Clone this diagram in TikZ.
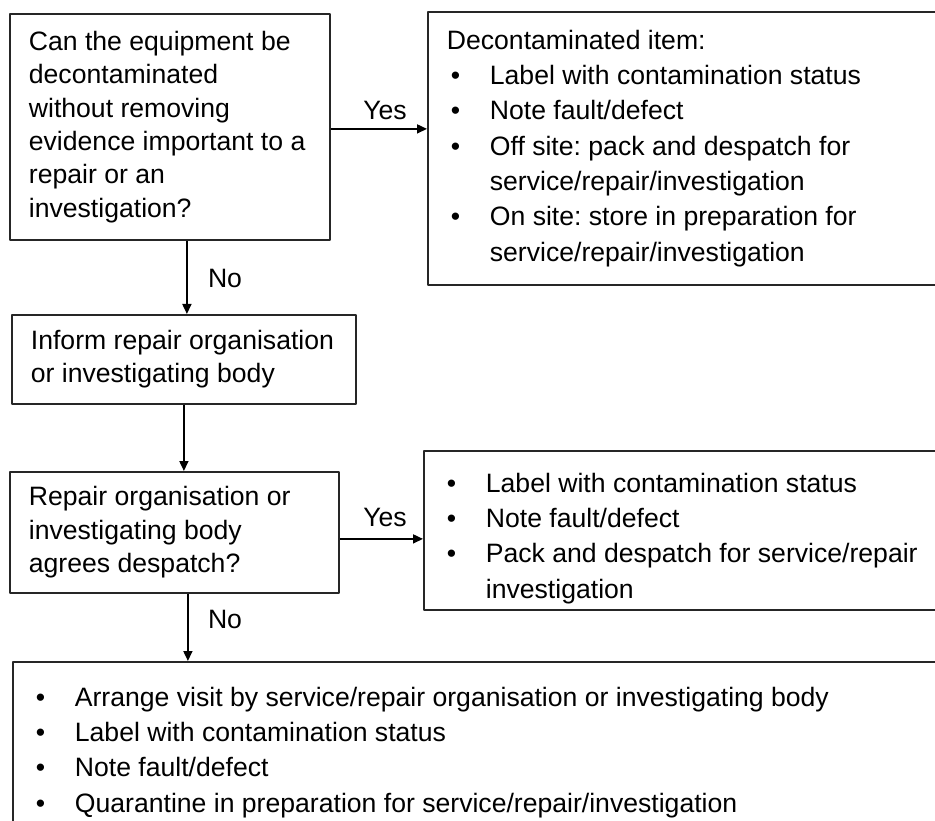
\documentclass[tikz,border=0pt]{standalone}
\usepackage{fontspec}
\setmainfont{Liberation Sans}
\usetikzlibrary{arrows.meta}
\newcommand{\blt}[1]{\par\hangindent=43pt\hangafter=1\noindent\makebox[43pt][l]{\hspace{4pt}\textbullet}#1}
\begin{document}
\frenchspacing\hyphenpenalty=10000
\begin{tikzpicture}[x=1pt,y=-1pt,line join=round,
	box/.style={draw=black!85,line width=1.8pt,anchor=north west,align=flush left,inner xsep=19pt,inner ysep=0pt,font=\fontsize{26.6}{33.4}\selectfont},
	listbox/.style={box,font=\fontsize{26.6}{35.3}\selectfont},
	arr/.style={line width=1.6pt,-{Triangle[length=10pt,width=9pt]}},
	lbl/.style={anchor=base,inner sep=0pt,font=\fontsize{26.6}{32}\selectfont}]
	\useasboundingbox (0,0) rectangle (935,821);
	% left column
	\node[box,text width=282pt,minimum height=226pt] (ask) at (9,13) {Can the equipment be\\decontaminated\\without removing\\evidence important to a\\repair or an\\investigation?};
	\node[box,text width=306pt,minimum height=89pt] (inform) at (11,314) {Inform repair organisation\\or investigating body};
	\node[box,text width=291pt,minimum height=121pt] (agree) at (9,471) {Repair organisation or\\investigating body\\agrees despatch?};
	% right column and bottom
	\node[listbox,text width=480pt,minimum height=273pt] (decon) at (427,11) {Decontaminated item:\blt{Label with contamination status}\blt{Note fault/defect}\blt{Off site: pack and despatch for\newline service/repair/investigation}\blt{On site: store in preparation for\newline service/repair/investigation}\par};
	\node[listbox,text width=484pt,minimum height=159pt] (despatch) at (423,450) {\blt{Label with contamination status}\blt{Note fault/defect}\blt{Pack and despatch for service/repair\newline investigation}\par};
	\node[listbox,text width=895pt,minimum height=165pt] (visit) at (12,661) {\blt{Arrange visit by service/repair organisation or investigating body}\blt{Label with contamination status}\blt{Note fault/defect}\blt{Quarantine in preparation for service/repair/investigation}\par};
	% connectors
	\draw[arr] ([yshift=-2pt]ask.east) -- ([yshift=-2pt]ask.east -| decon.west);
	\draw[arr] ([xshift=17pt]ask.south) -- ([xshift=17pt]ask.south |- inform.north);
	\draw[arr] (inform.south) -- (inform.south |- agree.north);
	\draw[arr] ([yshift=-6.5pt]agree.east) -- ([yshift=-6.5pt]agree.east -| despatch.west);
	\draw[arr] ([xshift=13.5pt]agree.south) -- ([xshift=13.5pt]agree.south |- visit.north);
	\node[lbl] (yes1) at (385,120) {Yes};
	\node[lbl] (no1) at (225,288) {No};
	\node[lbl] (yes2) at (385,526) {Yes};
	\node[lbl] (no2) at (225,628) {No};
\end{tikzpicture}
\end{document}
